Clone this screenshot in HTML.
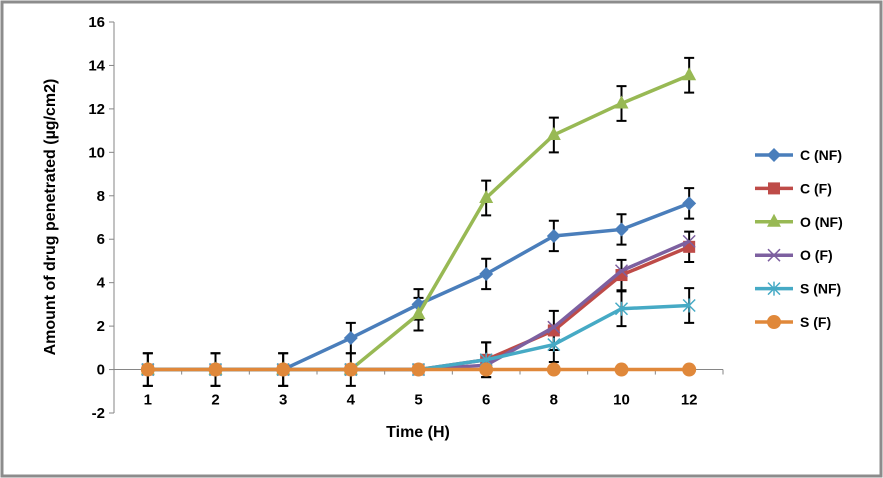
<!DOCTYPE html>
<html><head><meta charset="utf-8"><style>
body{margin:0;background:#fff;}
svg{display:block;font-family:"Liberation Sans",sans-serif;}
</style></head><body>
<svg id="c" width="883" height="478">
<rect x="2" y="2" width="879" height="474" fill="#fff" stroke="#8c8c8c" stroke-width="3"/>
</svg>
<script>
const categories=["1","2","3","4","5","6","8","10","12"];
const yTicks=[-2,0,2,4,6,8,10,12,14,16];
const seriesNames=["C (NF)","C (F)","O (NF)","O (F)","S (NF)","S (F)"];
const cNF=[0,0,0,1.45,3.0,4.4,6.15,6.45,7.65];
const cF=[0,0,0,0,0,0.45,1.8,4.35,5.65];
const oNF=[0,0,0,0,2.55,7.9,10.8,12.25,13.55];
const oF=[0,0,0,0,0,0.2,1.95,4.55,5.9];
const sNF=[0,0,0,0,0,0.45,1.15,2.8,2.95];
const sF=[0,0,0,0,0,0,0,0,0];
const errCNF=[0.75,0.75,0.75,0.7,0.7,0.7,0.7,0.7,0.7];
const errONF=[0.75,0.75,0.75,0.75,0.75,0.8,0.8,0.8,0.8];
const errCF=[0,0,0,0,0,0.8,0.9,0.7,0.7];
const errSNF=[0,0,0,0,0,0.8,0.8,0.8,0.8];
const colors=["#4A7EBB","#BE4B48","#98B954","#7D60A0","#46AAC5","#E0883A"];
const values=[cNF,cF,oNF,oF,sNF,sF];
const errs=[errCNF,errCF,errONF,null,errSNF,null];
const markers=["diamond","square","triangle","x","star","circle"];
const svg=document.getElementById('c');const NS="http://www.w3.org/2000/svg";
function mk(t,a,p){const e=document.createElementNS(NS,t);for(const k in a)e.setAttribute(k,a[k]);(p||svg).appendChild(e);return e;}
const x0=114,x1=723,yTop=22,yBot=413;
const xs=i=>x0+(i+0.5)*(x1-x0)/categories.length;
const ys=v=>yBot-(v+2)*(yBot-yTop)/18;
mk('line',{x1:x0,y1:yTop,x2:x0,y2:yBot,stroke:'#868686'});
mk('line',{x1:x0,y1:ys(0),x2:x1,y2:ys(0),stroke:'#868686'});
yTicks.forEach(v=>{mk('line',{x1:x0-5,y1:ys(v),x2:x0,y2:ys(v),stroke:'#868686'});
const t=mk('text',{x:x0-9,y:ys(v)+5,'text-anchor':'end','font-size':'15','font-weight':'bold'});t.textContent=v;
});
for(let i=0;i<=categories.length;i++){const xx=x0+i*(x1-x0)/categories.length;mk('line',{x1:xx,y1:ys(0),x2:xx,y2:ys(0)+5,stroke:'#868686'});}
categories.forEach((c,i)=>{const t=mk('text',{x:xs(i),y:ys(0)+35,'text-anchor':'middle','font-size':'15','font-weight':'bold'});t.textContent=c;
});
let t=mk('text',{x:418,y:437,'text-anchor':'middle','font-size':'16','font-weight':'bold'});t.textContent='Time (H)';

t=mk('text',{x:0,y:0,'text-anchor':'middle','font-size':'16','font-weight':'bold',transform:'translate(55,217) rotate(-90)'});t.textContent='Amount of drug penetrated  (µg/cm2)';

function marker(type,x,y,col,g){
 if(type==='diamond')mk('polygon',{points:`${x},${y-7} ${x+7},${y} ${x},${y+7} ${x-7},${y}`,fill:col},g);
 else if(type==='square')mk('rect',{x:x-6,y:y-6,width:12,height:12,fill:col},g);
 else if(type==='triangle')mk('polygon',{points:`${x},${y-8} ${x+7},${y+5} ${x-7},${y+5}`,fill:col},g);
 else if(type==='x'){mk('path',{d:`M${x-6} ${y-6}L${x+6} ${y+6}M${x+6} ${y-6}L${x-6} ${y+6}`,stroke:col,'stroke-width':1.5},g);}
 else if(type==='star'){mk('path',{d:`M${x-6} ${y-6}L${x+6} ${y+6}M${x+6} ${y-6}L${x-6} ${y+6}M${x} ${y-7}L${x} ${y+7}`,stroke:col,'stroke-width':1.5},g);}
 else mk('circle',{cx:x,cy:y,r:7,fill:col},g);
}
errs.forEach((e,s)=>{if(!e)return;const g=mk('g',{});
 e.forEach((d,i)=>{if(!d)return;const x=xs(i),v=values[s][i];
 mk('path',{d:`M${x} ${ys(v+d)}L${x} ${ys(v-d)}M${x-5} ${ys(v+d)}L${x+5} ${ys(v+d)}M${x-5} ${ys(v-d)}L${x+5} ${ys(v-d)}`,stroke:'#000','stroke-width':2,fill:'none'},g);});});
values.forEach((vals,s)=>{const g=mk('g',{});
 mk('polyline',{points:vals.map((v,i)=>xs(i)+','+ys(v)).join(' '),fill:'none',stroke:colors[s],'stroke-width':3.5},g);
 vals.forEach((v,i)=>marker(markers[s],xs(i),ys(v),colors[s],g));});
seriesNames.forEach((n,s)=>{const y=155+s*33.4;const g=mk('g',{});
 mk('line',{x1:755,y1:y,x2:793,y2:y,stroke:colors[s],'stroke-width':3.5},g);marker(markers[s],774,y,colors[s],g);
 const tt=mk('text',{x:800,y:y+5,'font-size':'14','font-weight':'bold'},g);tt.textContent=n;});
</script>
</body></html>
